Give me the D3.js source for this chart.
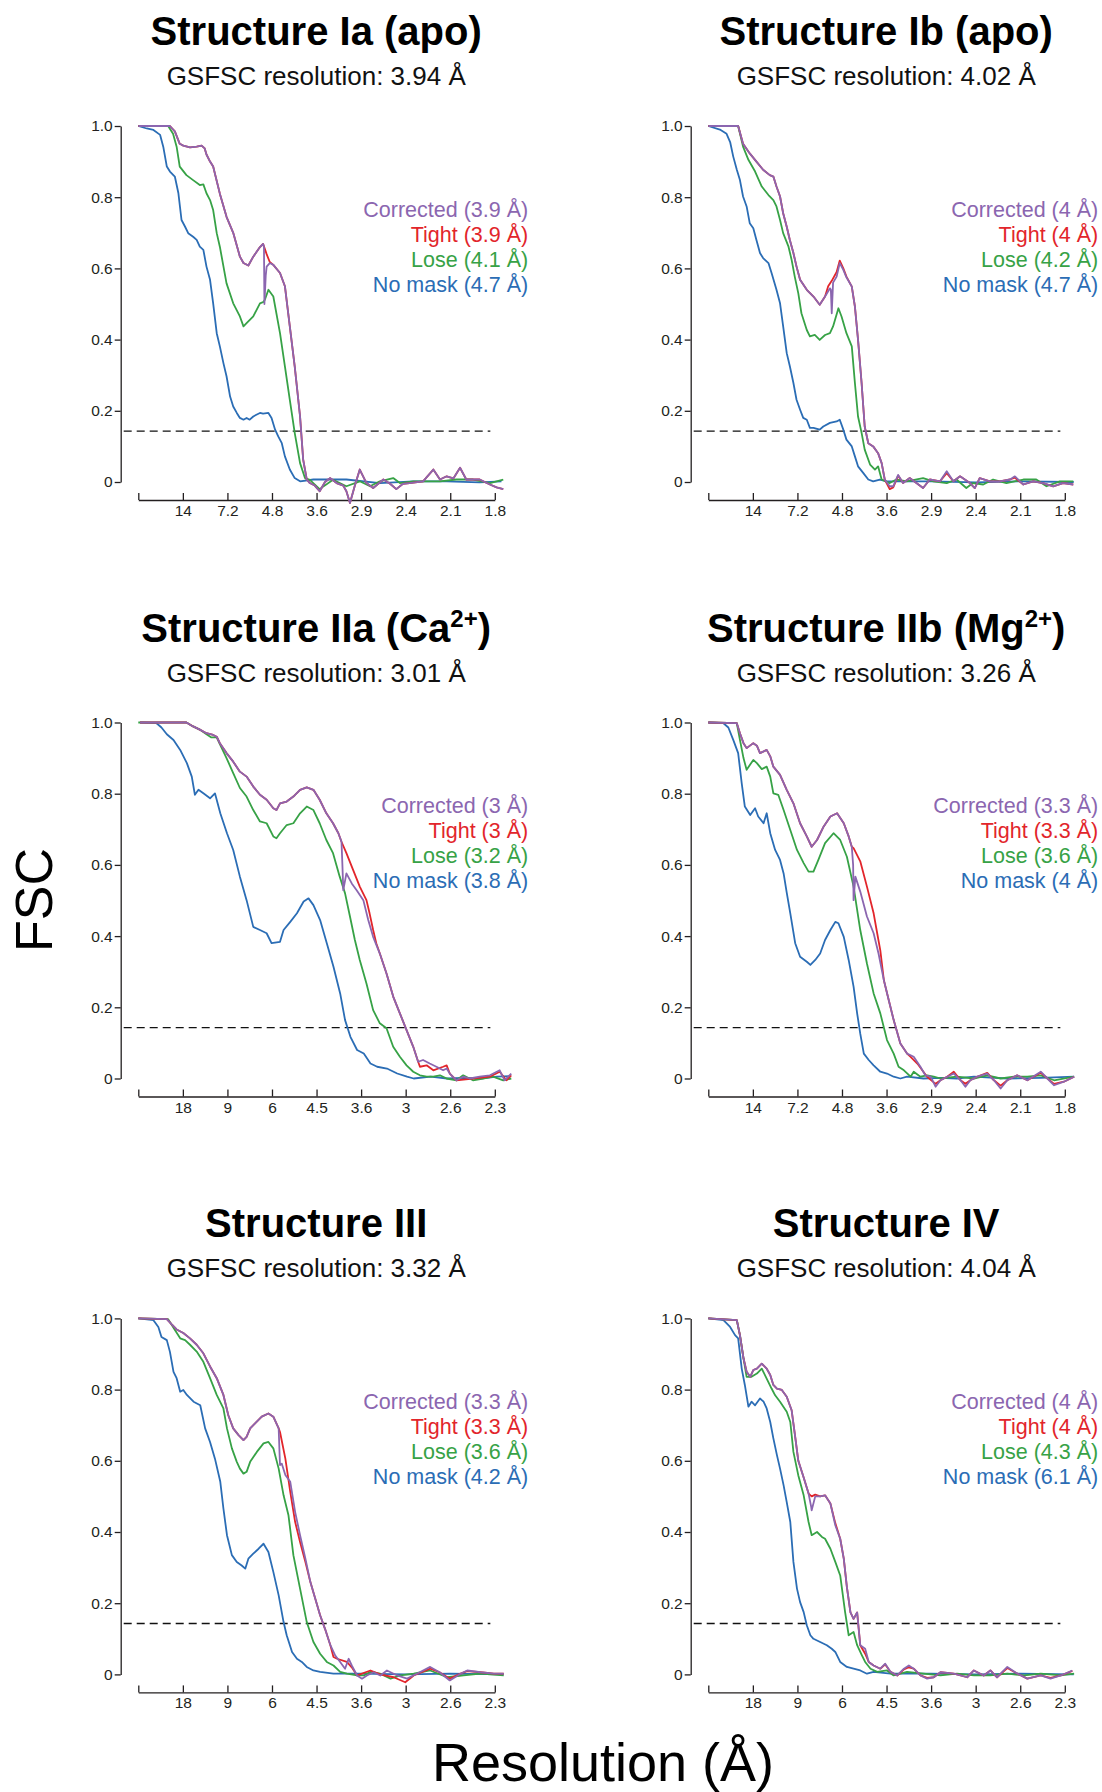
<!DOCTYPE html>
<html>
<head>
<meta charset="utf-8">
<script src="https://cdn.jsdelivr.net/npm/d3@7"></script>
<style>
  body { margin: 0; background: #fff; }
  svg { display: block; }
  text { font-family: "Liberation Sans", Arial, Helvetica, sans-serif; }
</style>
</head>
<body>
<div id="chart"></div>
<script>
// x values are Fourier shell indices (10 shells per labelled tick), y values are FSC

// ---- Structure Ia (apo)
const corrIa = [[0,1],[7.1,1],[8.2,0.985],[9.3,0.95],[10.1,0.945],[11.6,0.94],[13.1,0.942],[14.2,0.945],[14.9,0.937],[15.3,0.92],[16.1,0.9],[16.8,0.886],[18.3,0.81],[19.8,0.745],[21.3,0.7],[22.8,0.633],[23.6,0.615],[24.7,0.608],[25.8,0.633],[27.3,0.66],[28.0,0.669],[28.2,0.66],[28.3,0.5],[28.6,0.58],[28.8,0.605],[29.5,0.615],[30.3,0.61],[31.8,0.587],[32.9,0.55],[34.0,0.437],[35.1,0.325],[36.3,0.184],[37.0,0.063],[37.8,0.007],[38.5,-0.003],[39.6,-0.01],[40.7,-0.026],[41.9,0],[43.0,0.011],[44.5,-0.003],[46.0,-0.01],[46.7,-0.026],[47.5,-0.059],[48.6,-0.01],[49.7,0.035],[51.2,-0.003],[52.7,-0.017],[55.0,0.007],[56.5,-0.005],[57.9,-0.02],[59.4,-0.005],[60.9,-0.003],[63.9,0.002],[66.2,0.035],[67.7,0.007],[69.2,0.016],[70.7,0.01],[72.2,0.04],[73.6,0.007],[76.6,0.007],[78.9,-0.007],[80.4,-0.015],[81.9,-0.02]];
const tightIa = [[0,1],[7.1,1],[8.2,0.985],[9.3,0.95],[10.1,0.945],[11.6,0.94],[13.1,0.942],[14.2,0.945],[14.9,0.937],[15.3,0.92],[16.1,0.9],[16.8,0.886],[18.3,0.81],[19.8,0.745],[21.3,0.7],[22.8,0.633],[23.6,0.615],[24.7,0.608],[25.8,0.633],[27.3,0.66],[28.0,0.669],[28.8,0.64],[29.5,0.618],[30.3,0.61],[31.8,0.587],[32.9,0.55],[34.0,0.437],[35.1,0.325],[36.3,0.184],[37.0,0.063],[37.8,0.007],[38.5,-0.003],[39.6,-0.01],[40.7,-0.026],[41.9,0],[43.0,0.011],[44.5,-0.003],[46.0,-0.01],[46.7,-0.026],[47.5,-0.059],[48.6,-0.01],[49.7,0.035],[51.2,-0.003],[52.7,-0.017],[55.0,0.007],[56.5,-0.005],[57.9,-0.02],[59.4,-0.005],[60.9,-0.003],[63.9,0.002],[66.2,0.035],[67.7,0.007],[69.2,0.016],[70.7,0.01],[72.2,0.04],[73.6,0.007],[76.6,0.007],[78.9,-0.007],[80.4,-0.015],[81.9,-0.02]];
const loseIa = [[0,1],[6.7,1],[7.8,0.978],[8.6,0.942],[9.3,0.886],[10.8,0.862],[12.3,0.848],[13.8,0.834],[14.6,0.836],[15.3,0.811],[16.1,0.792],[16.8,0.764],[17.6,0.699],[18.3,0.661],[19.8,0.558],[21.3,0.502],[22.8,0.465],[23.6,0.437],[24.3,0.446],[25.8,0.465],[27.3,0.502],[28.0,0.505],[28.4,0.512],[29.2,0.54],[30.3,0.521],[31.8,0.418],[32.9,0.325],[34.0,0.231],[35.1,0.138],[36.3,0.053],[37.4,0.011],[38.5,0.006],[40.7,-0.02],[43.7,0.006],[46.7,-0.012],[49.7,0.002],[52.0,-0.012],[54.2,0.002],[57.2,0.011],[58.7,-0.003],[61.7,0.002],[64.7,0.002],[67.7,0.002],[71.4,0.007],[75.1,0.007],[78.9,-0.003],[81.9,0.007]];
const noMaskIa = [[0,1],[1.9,0.993],[3.4,0.989],[4.9,0.975],[5.6,0.942],[6.4,0.886],[7.1,0.872],[8.2,0.858],[9.0,0.811],[9.7,0.736],[10.5,0.717],[11.2,0.699],[12.3,0.689],[13.1,0.68],[13.8,0.661],[14.6,0.652],[15.3,0.605],[16.1,0.568],[16.8,0.502],[17.6,0.418],[18.3,0.381],[19.1,0.334],[19.8,0.297],[20.6,0.24],[21.3,0.212],[22.1,0.194],[22.8,0.18],[23.6,0.175],[24.3,0.18],[25.0,0.175],[25.8,0.184],[26.5,0.189],[27.3,0.194],[28.0,0.192],[29.2,0.194],[29.9,0.18],[30.7,0.147],[31.4,0.128],[32.2,0.109],[32.9,0.072],[34.0,0.035],[35.1,0.011],[36.3,0.002],[39.3,0.007],[46.7,0.007],[54.2,-0.003],[61.7,0.002],[69.2,0.002],[76.6,-0.001],[81.5,0.002]];

// ---- Structure Ib (apo)
const corrIb = [[0,1],[6.7,1],[7.8,0.95],[9.3,0.923],[10.8,0.9],[12.3,0.877],[13.8,0.862],[14.6,0.858],[15.3,0.83],[16.1,0.802],[16.8,0.755],[17.6,0.717],[18.3,0.68],[19.1,0.643],[19.8,0.605],[20.6,0.568],[22.1,0.54],[23.6,0.521],[25.0,0.498],[26.2,0.521],[27.3,0.544],[27.5,0.54],[27.7,0.474],[28.0,0.56],[28.8,0.577],[29.5,0.615],[30.3,0.596],[31.0,0.575],[32.2,0.549],[32.9,0.493],[33.6,0.4],[34.4,0.278],[35.1,0.156],[35.9,0.109],[37.0,0.1],[38.1,0.081],[38.9,0.053],[39.6,0.007],[40.7,-0.012],[41.5,-0.012],[42.6,0.02],[43.7,-0.003],[45.2,0.011],[46.7,-0.003],[48.2,-0.017],[49.7,0.007],[52.0,0.002],[53.5,0.03],[55.0,0.002],[56.5,0.016],[58.7,-0.003],[59.8,-0.017],[60.9,0.011],[63.2,0.002],[65.4,0.002],[67.7,0.007],[68.8,0.016],[70.7,-0.007],[72.9,0.002],[75.1,-0.003],[77.4,-0.012],[79.6,-0.003],[81.9,-0.007]];
const tightIb = [[0,1],[6.7,1],[7.8,0.95],[9.3,0.923],[10.8,0.9],[12.3,0.877],[13.8,0.862],[14.6,0.858],[15.3,0.83],[16.1,0.802],[16.8,0.755],[17.6,0.717],[18.3,0.68],[19.1,0.643],[19.8,0.605],[20.6,0.568],[22.1,0.54],[23.6,0.521],[25.0,0.498],[26.2,0.521],[26.9,0.55],[27.7,0.565],[28.8,0.59],[29.5,0.622],[30.3,0.6],[31.0,0.577],[32.2,0.549],[32.9,0.493],[33.6,0.4],[34.4,0.278],[35.1,0.156],[35.9,0.109],[37.0,0.1],[38.1,0.081],[38.9,0.053],[39.6,0.007],[40.7,-0.02],[41.5,-0.015],[42.6,0.018],[43.7,-0.003],[45.2,0.011],[46.7,-0.003],[48.2,-0.017],[49.7,0.007],[52.0,0.002],[53.5,0.025],[55.0,0.002],[56.5,0.016],[58.7,-0.003],[59.8,-0.017],[60.9,0.011],[63.2,0.002],[65.4,0.002],[67.7,0.007],[68.8,0.012],[70.7,-0.007],[72.9,0.002],[75.1,-0.003],[77.4,-0.012],[79.6,-0.003],[81.9,-0.007]];
const loseIb = [[0,1],[6.7,1],[7.8,0.942],[9.0,0.905],[10.5,0.872],[12.0,0.83],[13.5,0.806],[14.6,0.792],[15.3,0.774],[16.1,0.736],[16.8,0.699],[18.0,0.661],[18.7,0.624],[19.4,0.577],[20.2,0.53],[20.9,0.474],[22.1,0.427],[22.8,0.409],[23.9,0.413],[25.0,0.399],[26.2,0.413],[27.3,0.418],[28.0,0.437],[29.2,0.488],[29.9,0.465],[31.0,0.418],[32.2,0.381],[32.9,0.278],[33.6,0.184],[34.4,0.138],[35.1,0.091],[36.3,0.049],[37.4,0.035],[38.1,0.044],[38.9,0.007],[40.7,-0.003],[42.2,0.007],[44.5,0.002],[48.2,0.011],[50.5,0.002],[53.5,-0.003],[55.7,0.007],[57.9,-0.017],[59.4,-0.003],[61.7,-0.007],[63.9,0.007],[66.9,-0.003],[70.7,0.007],[73.6,0.007],[75.9,-0.012],[78.9,0.002],[81.9,0.002]];
const noMaskIb = [[0,1],[2.6,0.99],[4.1,0.978],[4.9,0.955],[5.6,0.914],[6.4,0.877],[7.1,0.848],[7.8,0.802],[8.6,0.774],[9.3,0.727],[10.1,0.713],[10.8,0.68],[11.6,0.643],[12.3,0.629],[13.5,0.615],[14.2,0.587],[15.3,0.54],[16.1,0.502],[16.8,0.437],[17.6,0.362],[18.3,0.325],[19.1,0.278],[19.8,0.231],[20.6,0.203],[21.3,0.18],[22.1,0.175],[22.8,0.152],[23.6,0.152],[25.0,0.147],[25.8,0.156],[27.3,0.166],[28.8,0.17],[29.5,0.175],[30.3,0.147],[31.0,0.119],[32.2,0.1],[32.9,0.072],[33.6,0.044],[34.8,0.025],[35.9,0.007],[37.0,0.002],[38.5,0.007],[40.0,0.002],[50,0.002],[60,-0.001],[70,0.002],[82,0]];

// ---- Structure IIa (Ca2+)
const corrIIa = [[0.4,1],[10.8,1],[12.3,0.989],[13.8,0.98],[15.3,0.97],[16.8,0.965],[17.6,0.96],[18.3,0.942],[19.8,0.914],[21.3,0.89],[22.8,0.862],[24.3,0.848],[25.8,0.82],[27.3,0.797],[28.8,0.783],[30.3,0.759],[31.0,0.754],[31.8,0.773],[33.3,0.778],[34.8,0.792],[36.3,0.811],[37.8,0.818],[39.3,0.811],[40.7,0.783],[42.2,0.745],[43.7,0.717],[44.9,0.689],[45.6,0.665],[45.8,0.6],[46.0,0.529],[46.7,0.576],[47.9,0.548],[49.0,0.529],[50.5,0.501],[51.6,0.445],[52.7,0.398],[54.2,0.351],[55.7,0.295],[57.2,0.23],[58.7,0.183],[60.2,0.136],[61.7,0.089],[62.8,0.047],[63.9,0.052],[65.4,0.042],[66.9,0.033],[68.4,0.023],[69.2,0.028],[69.9,0.014],[71.4,-0.005],[72.9,0.005],[74.4,0],[76.6,0.005],[78.9,0.009],[81.1,0.023],[82.2,-0.005],[83.7,0.014]];
const tightIIa = [[0.4,1],[10.8,1],[12.3,0.989],[13.8,0.98],[15.3,0.97],[16.8,0.965],[17.6,0.96],[18.3,0.942],[19.8,0.914],[21.3,0.89],[22.8,0.862],[24.3,0.848],[25.8,0.82],[27.3,0.797],[28.8,0.783],[30.3,0.759],[31.0,0.754],[31.8,0.773],[33.3,0.778],[34.8,0.792],[36.3,0.811],[37.8,0.818],[39.3,0.811],[40.7,0.783],[42.2,0.745],[43.7,0.717],[44.9,0.689],[45.6,0.665],[46.7,0.633],[48.2,0.586],[49.7,0.539],[51.2,0.501],[51.9,0.464],[52.7,0.417],[53.4,0.38],[54.2,0.351],[55.7,0.295],[57.2,0.23],[58.7,0.183],[60.2,0.136],[61.7,0.089],[62.8,0.047],[63.2,0.033],[64.7,0.037],[66.2,0.023],[68.4,0.033],[69.2,0.037],[69.9,0.014],[71.4,-0.005],[75.1,0],[78.9,0.005],[81.1,0.019],[82.6,-0.005],[83.7,0.009]];
const loseIIa = [[0,1],[10.8,1],[12.3,0.989],[13.8,0.98],[15.3,0.967],[16.4,0.958],[17.6,0.958],[18.3,0.939],[19.8,0.9],[21.3,0.858],[22.8,0.816],[24.3,0.792],[25.8,0.754],[27.3,0.722],[28.8,0.717],[30.3,0.68],[31.0,0.675],[31.8,0.689],[33.3,0.712],[34.8,0.717],[36.3,0.745],[37.8,0.764],[39.3,0.754],[40.7,0.717],[42.2,0.67],[43.7,0.633],[45.2,0.567],[46.4,0.52],[47.5,0.455],[48.6,0.389],[49.7,0.333],[51.2,0.267],[52.7,0.192],[54.2,0.155],[55.7,0.141],[57.2,0.089],[58.7,0.061],[60.2,0.037],[61.7,0.019],[63.2,0.009],[64.7,0.005],[66.2,0.005],[67.7,0.009],[69.2,0],[71.4,-0.005],[72.9,0.009],[75.1,-0.005],[77.4,0],[79.6,0.005],[81.9,-0.005],[83.7,0]];
const noMaskIIa = [[0.4,1],[4.1,0.998],[5.2,0.986],[6.4,0.967],[7.9,0.951],[9.4,0.923],[10.9,0.886],[12.0,0.848],[12.7,0.797],[13.5,0.811],[14.6,0.801],[16.1,0.787],[17.2,0.801],[18.4,0.745],[19.9,0.689],[21.3,0.642],[22.8,0.567],[24.3,0.501],[25.8,0.426],[27.3,0.417],[28.8,0.408],[29.9,0.38],[31.8,0.384],[32.6,0.417],[34.1,0.44],[35.6,0.464],[37.1,0.497],[38.2,0.506],[39.3,0.487],[40.8,0.445],[42.3,0.38],[43.8,0.314],[45.3,0.239],[46.4,0.164],[47.6,0.117],[49.1,0.08],[50.6,0.07],[52.1,0.042],[53.6,0.033],[55.8,0.028],[58.1,0.014],[60.3,0.005],[61.8,0],[65.6,0.005],[69.3,0],[73.0,0.002],[76.8,0],[80.5,0.005],[83.5,0.007]];

// ---- Structure IIb (Mg2+)
const corrIIb = [[0,1],[6.4,0.998],[7.1,0.97],[7.9,0.942],[8.6,0.928],[10.1,0.942],[10.9,0.935],[11.6,0.914],[13.1,0.923],[13.9,0.905],[14.6,0.876],[16.1,0.853],[17.6,0.811],[19.1,0.773],[20.6,0.717],[22.1,0.68],[23.2,0.651],[24.4,0.67],[25.9,0.708],[27.4,0.736],[28.9,0.745],[30.4,0.717],[31.5,0.68],[32.2,0.651],[32.5,0.6],[32.6,0.501],[33.0,0.567],[34.1,0.525],[35.6,0.455],[37.1,0.408],[38.2,0.351],[39.4,0.276],[40.5,0.22],[41.6,0.164],[43.1,0.098],[44.6,0.07],[46.1,0.061],[47.6,0.033],[48.7,0.009],[49.9,0.005],[51.0,-0.023],[52.1,-0.005],[53.6,0.005],[55.1,0.014],[56.6,-0.005],[57.7,-0.023],[58.8,-0.005],[60.3,0.005],[62.6,0.014],[64.1,-0.005],[65.6,-0.028],[67.1,-0.005],[69.3,0.009],[71.6,-0.005],[74.6,0.019],[76.1,0],[77.6,-0.019],[79.8,-0.009],[82.1,0.005]];
const tightIIb = [[0,1],[6.4,0.998],[7.1,0.97],[7.9,0.942],[8.6,0.928],[10.1,0.942],[10.9,0.935],[11.6,0.914],[13.1,0.923],[13.9,0.905],[14.6,0.876],[16.1,0.853],[17.6,0.811],[19.1,0.773],[20.6,0.717],[22.1,0.68],[23.2,0.651],[24.4,0.67],[25.9,0.708],[27.4,0.736],[28.9,0.745],[30.4,0.717],[31.5,0.68],[32.2,0.651],[32.6,0.647],[34.1,0.61],[35.6,0.539],[37.1,0.464],[37.9,0.408],[38.6,0.36],[39.4,0.276],[40.5,0.22],[41.6,0.164],[43.1,0.098],[44.6,0.07],[45.4,0.061],[46.9,0.042],[49.1,0.005],[51.0,-0.015],[52.1,-0.005],[53.6,0.005],[55.1,0.019],[56.6,-0.005],[57.7,-0.015],[58.8,-0.005],[60.3,0.005],[62.6,0.016],[64.1,-0.005],[65.6,-0.02],[67.1,-0.005],[69.3,0.009],[71.6,-0.005],[74.6,0.016],[76.1,0],[77.6,-0.015],[79.8,-0.009],[82.1,0.005]];
const loseIIb = [[0,1],[6.4,0.998],[7.1,0.951],[7.9,0.9],[8.6,0.867],[10.1,0.895],[10.9,0.886],[12.0,0.869],[13.1,0.876],[13.9,0.848],[14.6,0.801],[15.7,0.797],[16.9,0.754],[18.4,0.698],[19.9,0.642],[21.4,0.605],[22.5,0.581],[23.6,0.581],[24.7,0.614],[26.2,0.661],[28.1,0.689],[29.6,0.67],[31.1,0.623],[32.6,0.539],[34.1,0.417],[35.6,0.323],[37.1,0.239],[38.6,0.183],[40.1,0.108],[41.6,0.07],[42.7,0.033],[43.9,0.023],[45.4,0.005],[46.1,0.019],[47.6,0.005],[49.1,0.009],[50.6,0.005],[52.1,0],[55.8,0.005],[59.6,0],[62.6,0.009],[65.6,0],[68.6,0.005],[71.6,0.005],[74.6,0.009],[77.6,-0.005],[82.1,0.005]];
const noMaskIIb = [[0,1],[3.4,0.998],[4.5,0.986],[5.6,0.951],[6.7,0.914],[7.5,0.829],[8.2,0.764],[9.4,0.74],[10.5,0.759],[11.2,0.736],[12.4,0.717],[13.1,0.745],[13.9,0.689],[15.0,0.642],[16.1,0.614],[16.9,0.576],[17.6,0.522],[18.4,0.464],[19.5,0.38],[20.6,0.342],[22.1,0.328],[22.9,0.319],[24.0,0.333],[25.1,0.351],[26.2,0.389],[27.4,0.417],[28.5,0.44],[29.2,0.436],[30.4,0.398],[31.5,0.333],[32.6,0.258],[33.4,0.183],[34.1,0.126],[34.9,0.07],[36.0,0.052],[37.1,0.037],[38.6,0.019],[40.1,0.014],[41.6,0.005],[43.1,0],[44.6,0.005],[48.3,0],[52.1,0.002],[55.8,0],[59.6,0.005],[67.1,0],[74.6,0.002],[82.1,0.005]];

// ---- Structure III
const corrIII = [[0,1],[6.4,0.998],[7.5,0.983],[8.6,0.969],[10.1,0.959],[11.6,0.944],[13.1,0.926],[14.6,0.902],[16.1,0.865],[17.6,0.832],[19.1,0.785],[20.2,0.728],[21.3,0.691],[22.5,0.672],[23.6,0.658],[24.3,0.667],[25.1,0.691],[26.2,0.705],[27.7,0.724],[29.2,0.733],[30.3,0.724],[31.5,0.691],[31.7,0.62],[31.8,0.588],[32.2,0.592],[33.0,0.56],[34.1,0.541],[35.2,0.456],[36.3,0.391],[37.5,0.325],[38.6,0.26],[39.7,0.213],[40.8,0.166],[41.9,0.128],[43.1,0.082],[44.2,0.053],[45.3,0.035],[46.4,0.016],[47.2,0.044],[47.9,0.025],[49.1,-0.003],[50.2,-0.012],[51.3,-0.003],[52.8,0.006],[54.3,-0.003],[55.8,0.011],[58.1,-0.003],[60.3,-0.012],[62.5,0.002],[65.5,0.021],[67.6,0.006],[69.9,-0.017],[72.3,0.002],[73.8,0.011],[76.8,0.006],[79.8,0.002],[82.0,0.002]];
const tightIII = [[0,1],[6.4,0.998],[7.5,0.983],[8.6,0.969],[10.1,0.959],[11.6,0.944],[13.1,0.926],[14.6,0.902],[16.1,0.865],[17.6,0.832],[19.1,0.785],[20.2,0.728],[21.3,0.691],[22.5,0.672],[23.6,0.658],[24.3,0.667],[25.1,0.691],[26.2,0.705],[27.7,0.724],[29.2,0.733],[30.3,0.724],[31.5,0.691],[31.8,0.681],[33.0,0.606],[34.1,0.513],[35.2,0.428],[36.3,0.372],[37.5,0.316],[38.6,0.26],[39.7,0.213],[40.8,0.166],[41.9,0.128],[43.1,0.082],[43.8,0.049],[44.6,0.044],[46.8,0.035],[47.9,0.02],[49.1,-0.003],[52.1,0.011],[54.3,0],[57.3,-0.008],[59.9,-0.022],[61.8,-0.003],[65.5,0.016],[67.6,0.006],[69.9,-0.012],[72.3,0.002],[73.8,0.009],[76.8,0.006],[79.8,0.002],[82.0,0.002]];
const loseIII = [[0,1],[6.7,0.998],[7.9,0.974],[9.4,0.944],[10.5,0.939],[11.6,0.926],[13.1,0.907],[14.6,0.878],[16.1,0.832],[17.6,0.785],[19.1,0.747],[19.9,0.691],[21.0,0.635],[22.1,0.597],[22.8,0.578],[23.6,0.564],[24.3,0.569],[25.1,0.597],[26.6,0.625],[28.1,0.649],[29.2,0.653],[30.3,0.635],[31.5,0.578],[32.6,0.503],[33.7,0.447],[34.8,0.335],[36.3,0.241],[37.8,0.147],[39.3,0.091],[40.8,0.058],[42.3,0.035],[43.8,0.025],[45.3,0.007],[46.8,0.002],[49.1,-0.003],[50.6,-0.003],[52.1,0.007],[54.3,0.002],[56.6,-0.012],[58.8,-0.003],[61.8,0.002],[65.5,0.011],[69.3,-0.008],[73.0,-0.003],[76.8,0.002],[82.0,-0.003]];
const noMaskIII = [[0,1],[3.4,0.995],[4.5,0.976],[5.2,0.948],[6.4,0.939],[7.1,0.906],[7.9,0.85],[8.6,0.832],[9.4,0.794],[10.1,0.799],[10.9,0.785],[12.4,0.766],[13.9,0.756],[15.0,0.691],[16.1,0.653],[17.2,0.606],[18.4,0.541],[19.1,0.466],[19.9,0.391],[21.0,0.335],[22.1,0.316],[23.2,0.306],[24.0,0.297],[24.7,0.325],[25.8,0.339],[27.0,0.353],[28.1,0.367],[29.2,0.344],[30.3,0.288],[31.5,0.222],[32.6,0.147],[33.3,0.11],[34.5,0.063],[35.6,0.044],[36.7,0.035],[37.8,0.021],[39.3,0.011],[40.8,0.007],[43.8,0.002],[50,0.002],[60,0],[70,0.002],[82,0]];

// ---- Structure IV
const corrIV = [[0,1],[6.4,0.995],[7.1,0.953],[7.9,0.888],[8.6,0.85],[9.4,0.836],[10.1,0.855],[10.9,0.859],[12.0,0.873],[13.1,0.859],[13.9,0.841],[14.6,0.813],[15.4,0.803],[16.5,0.799],[17.6,0.78],[18.7,0.742],[19.5,0.667],[20.2,0.6],[21.4,0.553],[22.5,0.508],[23.1,0.47],[23.2,0.461],[24.0,0.5],[25.1,0.5],[26.2,0.503],[27.4,0.48],[28.5,0.419],[29.6,0.381],[30.4,0.325],[31.1,0.245],[31.9,0.174],[32.6,0.156],[33.4,0.174],[34.1,0.082],[35.2,0.072],[36.0,0.035],[37.1,0.025],[38.6,0.016],[39.7,0.03],[40.9,0.007],[42.4,-0.003],[43.9,0.016],[45.0,0.025],[46.1,0.016],[47.6,-0.003],[49.1,-0.012],[50.6,-0.008],[52.1,0.006],[55.1,0.002],[58.1,-0.008],[59.6,0.011],[61.8,-0.003],[63.3,0.011],[64.8,-0.008],[67.1,0.021],[69.4,0.002],[71.6,-0.012],[74.6,-0.003],[76.8,-0.012],[79.1,-0.003],[81.7,0.011]];
const tightIV = [[0,1],[6.4,0.995],[7.1,0.953],[7.9,0.888],[8.6,0.85],[9.4,0.836],[10.1,0.855],[10.9,0.859],[12.0,0.873],[13.1,0.859],[13.9,0.841],[14.6,0.813],[15.4,0.803],[16.5,0.799],[17.6,0.78],[18.7,0.742],[19.5,0.667],[20.2,0.6],[21.4,0.553],[22.5,0.508],[23.2,0.5],[24.0,0.505],[25.1,0.5],[26.2,0.503],[27.4,0.48],[28.5,0.425],[29.6,0.381],[30.4,0.325],[31.1,0.245],[31.9,0.174],[32.6,0.156],[33.4,0.174],[34.1,0.082],[35.2,0.058],[36.0,0.035],[37.1,0.025],[38.6,0.016],[39.7,0.028],[40.9,0.007],[42.4,-0.003],[43.9,0.014],[45.0,0.02],[46.1,0.016],[47.6,-0.003],[49.1,-0.01],[50.6,-0.008],[52.1,0.006],[55.1,0.002],[58.1,-0.008],[59.6,0.011],[61.8,-0.003],[63.3,0.011],[64.8,-0.008],[67.1,0.018],[69.4,0.002],[71.6,-0.012],[74.6,-0.003],[76.8,-0.01],[79.1,-0.003],[81.7,0.01]];
const loseIV = [[0,1],[6.4,0.995],[7.1,0.953],[7.9,0.888],[8.6,0.836],[9.7,0.836],[10.9,0.845],[12.0,0.859],[13.1,0.831],[14.2,0.803],[15.0,0.784],[16.1,0.766],[17.6,0.738],[18.4,0.709],[19.1,0.625],[20.2,0.559],[21.4,0.503],[22.5,0.428],[23.2,0.391],[24.4,0.4],[25.5,0.386],[26.2,0.381],[27.4,0.353],[28.5,0.316],[29.6,0.278],[30.7,0.175],[31.5,0.11],[32.6,0.119],[33.4,0.082],[34.5,0.053],[35.2,0.035],[36.4,0.016],[37.9,0.007],[40.1,0.011],[41.6,-0.003],[44.6,0.007],[48.3,0.002],[52.1,-0.003],[55.8,0.002],[59.6,-0.003],[63.3,-0.003],[67.1,0.002],[70.9,-0.003],[74.6,0.002],[79.1,-0.003],[82.1,0.002]];
const noMaskIV = [[0,1],[3.4,0.995],[4.9,0.976],[6.0,0.953],[6.7,0.944],[7.5,0.859],[8.2,0.813],[9.0,0.752],[9.7,0.766],[10.5,0.756],[11.6,0.775],[12.4,0.766],[13.1,0.747],[13.9,0.709],[14.6,0.663],[15.4,0.616],[16.1,0.578],[16.9,0.531],[17.6,0.484],[18.4,0.428],[19.1,0.316],[19.9,0.241],[20.6,0.203],[21.4,0.175],[22.1,0.138],[22.9,0.11],[23.6,0.1],[25.1,0.091],[26.6,0.082],[27.7,0.072],[28.5,0.063],[29.6,0.035],[31.1,0.021],[32.6,0.016],[34.1,0.011],[35.6,0.002],[37.1,0.007],[40.9,0.002],[50,0.002],[60,0],[70,0.002],[82,0]];

// ---- text and ticks
const titleParts = [
  ["Structure Ia (apo)", "", ""],
  ["Structure Ib (apo)", "", ""],
  ["Structure IIa (Ca", "2+", ")"],
  ["Structure IIb (Mg", "2+", ")"],
  ["Structure III", "", ""],
  ["Structure IV", "", ""]
];
const gsfsc = ["3.94", "4.02", "3.01", "3.26", "3.32", "4.04"];
const legCorrected = ["3.9", "4", "3", "3.3", "3.3", "4"];
const legTight = ["3.9", "4", "3", "3.3", "3.3", "4"];
const legLose = ["4.1", "4.2", "3.2", "3.6", "3.6", "4.3"];
const legNoMask = ["4.7", "4.7", "3.8", "4", "4.2", "6.1"];

const fscTicks = [0, 0.2, 0.4, 0.6, 0.8, 1.0];
const fscTickLabels = ["0", "0.2", "0.4", "0.6", "0.8", "1.0"];
const shellTicks = [0, 10, 20, 30, 40, 50, 60, 70, 80];
const resLabels14 = ["", "14", "7.2", "4.8", "3.6", "2.9", "2.4", "2.1", "1.8"];
const resLabels18 = ["", "18", "9", "6", "4.5", "3.6", "3", "2.6", "2.3"];
const threshold = 0.143;

const colors = { corrected: "#8b66b0", tight: "#e2252b", lose: "#37a246", nomask: "#2b6db5" };

const panels = [
  { i: 0, col: 0, row: 0, labels: resLabels14, curves: { nomask: noMaskIa, lose: loseIa, tight: tightIa, corrected: corrIa } },
  { i: 1, col: 1, row: 0, labels: resLabels14, curves: { nomask: noMaskIb, lose: loseIb, tight: tightIb, corrected: corrIb } },
  { i: 2, col: 0, row: 1, labels: resLabels18, curves: { nomask: noMaskIIa, lose: loseIIa, tight: tightIIa, corrected: corrIIa } },
  { i: 3, col: 1, row: 1, labels: resLabels14, curves: { nomask: noMaskIIb, lose: loseIIb, tight: tightIIb, corrected: corrIIb } },
  { i: 4, col: 0, row: 2, labels: resLabels18, curves: { nomask: noMaskIII, lose: loseIII, tight: tightIII, corrected: corrIII } },
  { i: 5, col: 1, row: 2, labels: resLabels18, curves: { nomask: noMaskIV, lose: loseIV, tight: tightIV, corrected: corrIV } }
];

// layout
const W = 1102, H = 1792;
const axisX = [120.7, 690.7];      // y axis position per column
const rowTop = [126, 722.5, 1318.4]; // FSC = 1.0 per row
const plotH = 356, plotW = 356.5, xGap = 17.6, xAxisDrop = 18;
const ink = "#231f20";

const svg = d3.select("#chart").append("svg")
  .attr("width", W)
  .attr("height", H);

panels.forEach(p => {
  const ax = axisX[p.col], top = rowTop[p.row];
  const x = d3.scaleLinear().domain([0, 80]).range([ax + xGap, ax + xGap + plotW]);
  const y = d3.scaleLinear().domain([0, 1]).range([top + plotH, top]);
  const g = svg.append("g").attr("class", "panel panel-" + p.i);

  // titles
  const t = g.append("text")
    .attr("x", ax + 195.5)
    .attr("y", top - 81)
    .attr("text-anchor", "middle")
    .attr("font-size", 40)
    .attr("font-weight", "bold")
    .attr("fill", "#000");
  t.append("tspan").text(titleParts[p.i][0]);
  if (titleParts[p.i][1]) {
    t.append("tspan").attr("font-size", 24).attr("dy", -15).text(titleParts[p.i][1]);
    t.append("tspan").attr("dy", 15).text(titleParts[p.i][2]);
  }
  g.append("text")
    .attr("x", ax + 195.5)
    .attr("y", top - 41)
    .attr("text-anchor", "middle")
    .attr("font-size", 26)
    .attr("fill", "#111")
    .text("GSFSC resolution: " + gsfsc[p.i] + " Å");

  // axes
  const yAxis = g.append("g")
    .attr("transform", `translate(${ax},0)`)
    .call(d3.axisLeft(y).tickValues(fscTicks).tickFormat((d, k) => fscTickLabels[k])
      .tickSize(6).tickSizeOuter(0).tickPadding(2));
  const xAxis = g.append("g")
    .attr("transform", `translate(0,${top + plotH + xAxisDrop})`)
    .call(d3.axisBottom(x).tickValues(shellTicks).tickFormat((d, k) => p.labels[k])
      .tickSizeInner(-7).tickSizeOuter(0).tickPadding(5));
  [yAxis, xAxis].forEach(a => {
    a.attr("font-family", null).attr("font-size", null);
    a.select(".domain").attr("stroke", ink).attr("stroke-width", 1.3);
    a.selectAll(".tick line").attr("stroke", ink).attr("stroke-width", 1.3);
    a.selectAll(".tick text").attr("fill", ink).attr("font-size", 15.5);
  });

  // 0.143 threshold
  g.append("line")
    .attr("x1", ax + 3).attr("x2", x(79))
    .attr("y1", y(threshold)).attr("y2", y(threshold))
    .attr("stroke", "#111")
    .attr("stroke-width", 1.4)
    .attr("stroke-dasharray", "8,5");

  // curves
  const line = d3.line().x(d => x(d[0])).y(d => y(d[1]));
  ["nomask", "lose", "tight", "corrected"].forEach(key => {
    g.append("path")
      .datum(p.curves[key])
      .attr("d", line)
      .attr("fill", "none")
      .attr("stroke", colors[key])
      .attr("stroke-width", 1.8)
      .attr("stroke-linejoin", "round");
  });

  // legend
  const leg = [
    ["Corrected", legCorrected[p.i], colors.corrected],
    ["Tight", legTight[p.i], colors.tight],
    ["Lose", legLose[p.i], colors.lose],
    ["No mask", legNoMask[p.i], colors.nomask]
  ];
  g.selectAll("text.legend")
    .data(leg)
    .enter().append("text")
    .attr("class", "legend")
    .attr("x", ax + 407.5)
    .attr("y", (d, k) => top + 90.7 + k * 25)
    .attr("text-anchor", "end")
    .attr("font-size", 21.5)
    .attr("fill", d => d[2])
    .text(d => `${d[0]} (${d[1]} Å)`);
});

// shared axis titles
svg.append("text")
  .attr("transform", "translate(52,900) rotate(-90)")
  .attr("text-anchor", "middle")
  .attr("font-size", 52)
  .attr("fill", "#000")
  .text("FSC");

svg.append("text")
  .attr("x", 603)
  .attr("y", 1781)
  .attr("text-anchor", "middle")
  .attr("font-size", 54)
  .attr("fill", "#000")
  .text("Resolution (Å)");
</script>
</body>
</html>
